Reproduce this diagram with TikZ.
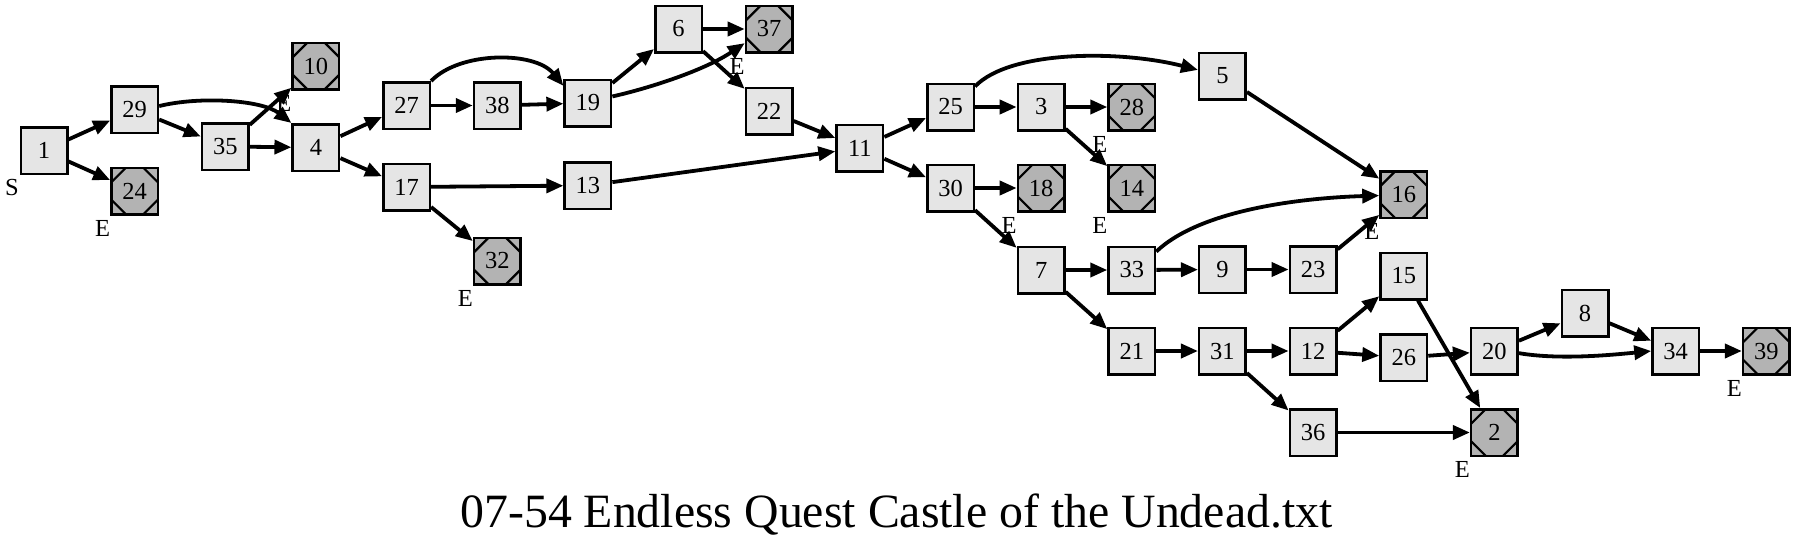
\documentclass[tikz,border=0pt]{standalone}
\usepackage{fontspec}
\setmainfont{Liberation Serif}
\usetikzlibrary{arrows.meta,calc}
\definecolor{boxfill}{RGB}{229,229,229}
\definecolor{endfill}{RGB}{179,179,179}
\begin{document}
\begin{tikzpicture}[x=1pt,y=-1pt,
  box/.style={draw=black, line width=2.5pt, fill=boxfill, minimum width=46.5pt, minimum height=46.5pt, inner sep=0pt, font=\fontsize{24.5}{28}\selectfont},
  endbox/.style={box, fill=endfill, path picture={
     \draw[line width=2.2pt]
       ($(path picture bounding box.north west)+(0pt,-14.5pt)$) -- ++(14.5pt,14.5pt)
       ($(path picture bounding box.north east)+(-14.5pt,0pt)$) -- ++(14.5pt,-14.5pt)
       ($(path picture bounding box.south west)+(0pt,14.5pt)$) -- ++(14.5pt,-14.5pt)
       ($(path picture bounding box.south east)+(-14.5pt,0pt)$) -- ++(14.5pt,14.5pt);}},
  lbl/.style={font=\fontsize{24.5}{28}\selectfont, inner sep=0pt},
  edge/.style={line width=3.8pt, -{Triangle[length=17pt,width=14pt]}},
]
\useasboundingbox (0,0) rectangle (1796,547);

% nodes
\node[box]    (n1)  at (44,150.5) {1};
\node[box]    (n29) at (134.65,109.5) {29};
\node[endbox] (n24) at (134.65,191) {24};
\node[box]    (n35) at (225.3,146.5) {35};
\node[endbox] (n10) at (315.95,66) {10};
\node[box]    (n4)  at (315.95,147.5) {4};
\node[box]    (n27) at (406.6,105.5) {27};
\node[box]    (n17) at (406.6,187) {17};
\node[box]    (n38) at (497.25,105.5) {38};
\node[endbox] (n32) at (497.25,261) {32};
\node[box]    (n19) at (587.9,103) {19};
\node[box]    (n13) at (587.9,185.5) {13};
\node[box]    (n6)  at (678.55,29) {6};
\node[endbox] (n37) at (769.2,29) {37};
\node[box]    (n22) at (769.2,111) {22};
\node[box]    (n11) at (859.85,148) {11};
\node[box]    (n25) at (950.5,107) {25};
\node[box]    (n30) at (950.5,188) {30};
\node[box]    (n3)  at (1041.15,107) {3};
\node[endbox] (n18) at (1041.15,188) {18};
\node[box]    (n7)  at (1041.15,270) {7};
\node[endbox] (n28) at (1131.8,107) {28};
\node[endbox] (n14) at (1131.8,188) {14};
\node[box]    (n33) at (1131.8,270) {33};
\node[box]    (n21) at (1131.8,351) {21};
\node[box]    (n5)  at (1222.45,76) {5};
\node[box]    (n9)  at (1222.45,269.5) {9};
\node[box]    (n31) at (1222.45,351) {31};
\node[box]    (n23) at (1313.1,269.5) {23};
\node[box]    (n12) at (1313.1,351) {12};
\node[box]    (n36) at (1313.1,432.5) {36};
\node[endbox] (n16) at (1403.75,194.7) {16};
\node[box]    (n15) at (1403.75,276) {15};
\node[box]    (n26) at (1403.75,357.5) {26};
\node[box]    (n20) at (1494.4,351) {20};
\node[endbox] (n2)  at (1494.4,432.5) {2};
\node[box]    (n8)  at (1585.05,313) {8};
\node[box]    (n34) at (1675.7,351) {34};
\node[endbox] (n39) at (1766.35,351) {39};

% labels
\node[lbl] (s1)  at ($(n1)+(-32,37)$) {S};
\node[lbl] (e24) at ($(n24)+(-32,37)$) {E};
\node[lbl] (e10) at ($(n10)+(-32,37)$) {E};
\node[lbl] (e32) at ($(n32)+(-32,37)$) {E};
\node[lbl] (e37) at ($(n37)+(-32,37)$) {E};
\node[lbl] (e28) at ($(n28)+(-32,37)$) {E};
\node[lbl] (e18) at ($(n18)+(-32,37)$) {E};
\node[lbl] (e14) at ($(n14)+(-32,37)$) {E};
\node[lbl] (e16) at ($(n16)+(-32,37)$) {E};
\node[lbl] (e39) at ($(n39)+(-32,37)$) {E};
\node[lbl] (e2)  at ($(n2)+(-32,37)$) {E};

% title
\node[anchor=base, inner sep=0pt, font=\fontsize{47.8}{56}\selectfont] (title) at (896.5,527) {07-54 Endless Quest Castle of the Undead.txt};

% edges
\draw[edge] (n1) -- (n29);
\draw[edge] (n1) -- (n24);
\draw[edge] (n29) -- (n35);
\draw[edge] (n29.8) .. controls (200,96) and (262,100) .. (n4.135);
\draw[edge] (n35) -- (n10);
\draw[edge] (n35) -- (n4);
\draw[edge] (n4) -- (n27);
\draw[edge] (n4) -- (n17);
\draw[edge] (n27) -- (n38);
\draw[edge] (n27.north east) .. controls (460,51) and (535,51) .. (n19.145);
\draw[edge] (n38) -- (n19);
\draw[edge] (n17) -- (n13);
\draw[edge] (n17) -- (n32);
\draw[edge] (n19) -- (n6);
\draw[edge] (n19.15) .. controls (650,88) and (705,70) .. (n37.210);
\draw[edge] (n6) -- (n37);
\draw[edge] (n6) -- (n22);
\draw[edge] (n22) -- (n11);
\draw[edge] (n13) -- (n11);
\draw[edge] (n11) -- (n25);
\draw[edge] (n11) -- (n30);
\draw[edge] (n25) -- (n3);
\draw[edge] (n25.40) .. controls (1010,50) and (1120,50) .. (n5.166);
\draw[edge] (n3) -- (n28);
\draw[edge] (n3) -- (n14);
\draw[edge] (n30) -- (n18);
\draw[edge] (n30) -- (n7);
\draw[edge] (n7) -- (n33);
\draw[edge] (n7) -- (n21);
\draw[edge] (n33.37) .. controls (1200,210) and (1300,198) .. (n16.182);
\draw[edge] (n33) -- (n9);
\draw[edge] (n9) -- (n23);
\draw[edge] (n23) -- (n16);
\draw[edge] (n5) -- (n16);
\draw[edge] (n21) -- (n31);
\draw[edge] (n31) -- (n12);
\draw[edge] (n31) -- (n36);
\draw[edge] (n12) -- (n15);
\draw[edge] (n12) -- (n26);
\draw[edge] (n15) -- (n2);
\draw[edge] (n26) -- (n20);
\draw[edge] (n20) -- (n8);
\draw[edge] (n20.-5) .. controls (1559,360) and (1611,355) .. (n34.180);
\draw[edge] (n8) -- (n34);
\draw[edge] (n34) -- (n39);
\draw[edge] (n36) -- (n2);
\end{tikzpicture}
\end{document}
